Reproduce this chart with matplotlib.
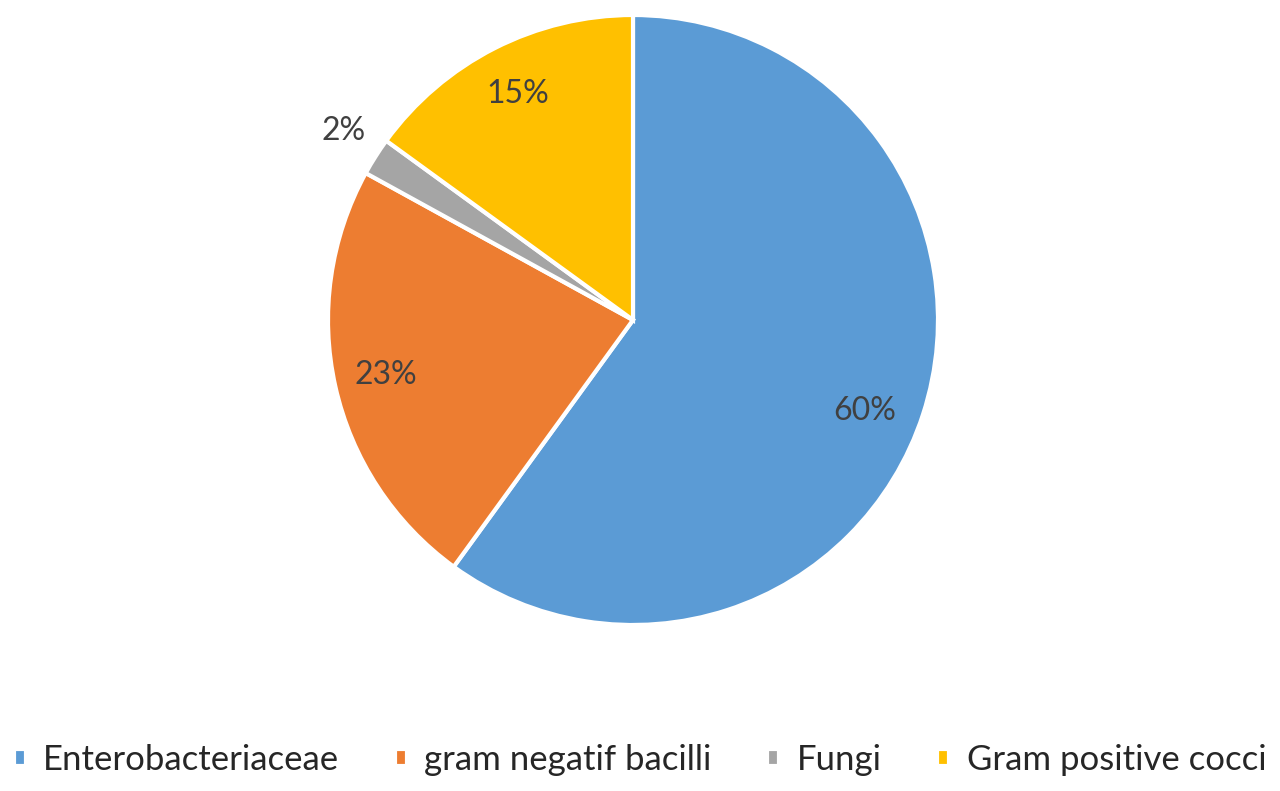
import matplotlib.pyplot as plt

labels = ["Enterobacteriaceae", "gram negatif bacilli", "Fungi", "Gram positive cocci"]
values = [60, 23, 2, 15]
colors = ["#5B9BD5", "#ED7D31", "#A5A5A5", "#FFC000"]

plt.rcParams["font.family"] = ["Lato", "DejaVu Sans"]

fig = plt.figure(figsize=(12.8, 7.91), dpi=100)
ax = fig.add_axes([0, 0, 1, 1])

wedges, texts, autotexts = ax.pie(
    values, colors=colors, startangle=90, counterclock=False,
    autopct="%.0f%%", pctdistance=0.83,
    wedgeprops=dict(edgecolor="white", linewidth=3),
    textprops=dict(fontsize=23, color="#404040"),
)
# small slice label sits outside the pie
autotexts[2].set_position((-0.95, 0.62))
autotexts[0].set_position((0.76, -0.30))

ax.set_aspect("equal")
# place pie: center (633, 320) px, radius ~305 px
W, H = 1280, 791
cx, cy, r = 633, 320, 305
ax.set_xlim(-cx / r, (W - cx) / r)
ax.set_ylim(-(H - cy) / r, cy / r)
ax.axis("off")

fig.legend(wedges, labels, loc="center", bbox_to_anchor=(0.5, 1 - 760 / 791),
           ncol=4, frameon=False, fontsize=25, handlelength=0.35, handleheight=0.35,
           columnspacing=1.6, handletextpad=0.5, labelcolor="#262626")

fig.savefig("out.png", dpi=100)
